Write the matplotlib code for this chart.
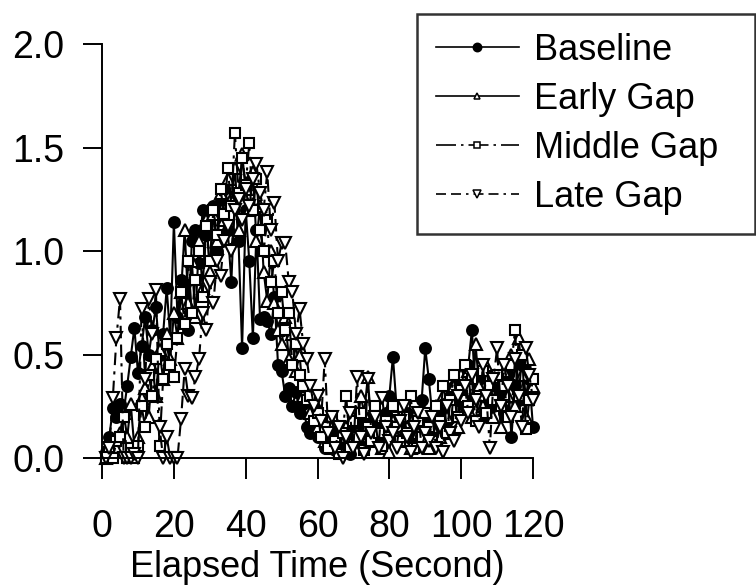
import numpy as np
import matplotlib
matplotlib.use("Agg")
import matplotlib.pyplot as plt
from matplotlib.lines import Line2D

plt.rcParams['font.family'] = ['Liberation Sans', 'DejaVu Sans']

# elapsed time, one reading per second
seconds = list(range(1, 121))

baseline = [
    0.03, 0.10, 0.24, 0.20, 0.26, 0.22, 0.35, 0.49, 0.63, 0.41,
    0.54, 0.68, 0.50, 0.62, 0.73, 0.50, 0.60, 0.82, 0.58, 1.14,
    0.68, 0.86, 0.84, 0.62, 1.05, 1.10, 0.94, 1.20, 1.08, 1.19,
    1.22, 1.00, 1.25, 1.30, 1.10, 0.85, 1.27, 1.05, 0.53, 1.20,
    0.95, 0.58, 1.10, 0.67, 0.68, 0.66, 0.60, 0.78, 0.45, 0.42,
    0.30, 0.34, 0.25, 0.32, 0.22, 0.26, 0.15, 0.12, 0.18, 0.10,
    0.14, 0.05, 0.08, 0.15, 0.04, 0.12, 0.06, 0.10, 0.02, 0.14,
    0.08, 0.18, 0.05, 0.12, 0.20, 0.09, 0.15, 0.05, 0.22, 0.30,
    0.49, 0.25, 0.18, 0.10, 0.22, 0.12, 0.08, 0.15, 0.28, 0.53,
    0.38, 0.20, 0.15, 0.10, 0.22, 0.18, 0.30, 0.35, 0.28, 0.40,
    0.25, 0.45, 0.62, 0.30, 0.38, 0.20, 0.28, 0.35, 0.25, 0.40,
    0.32, 0.22, 0.40, 0.10, 0.35, 0.28, 0.45, 0.30, 0.38, 0.15,
]

early_gap = [
    0.00, 0.03, 0.08, 0.05, 0.12, 0.22, 0.10, 0.26, 0.05, 0.10,
    0.29, 0.34, 0.20, 0.44, 0.30, 0.52, 0.38, 0.60, 0.48, 0.70,
    0.58, 0.80, 1.10, 0.75, 0.95, 0.68, 1.05, 0.82, 1.15, 0.90,
    1.18, 1.05, 1.28, 1.15, 1.35, 1.25, 1.40, 1.10, 1.47, 1.30,
    1.20, 1.38, 1.05, 1.22, 0.90, 0.76, 1.00, 0.75, 0.62, 0.55,
    0.68, 0.48, 0.60, 0.42, 0.50, 0.30, 0.35, 0.22, 0.28, 0.15,
    0.20, 0.08, 0.12, 0.05, 0.18, 0.10, 0.03, 0.15, 0.08, 0.20,
    0.12, 0.30, 0.22, 0.39, 0.15, 0.08, 0.20, 0.05, 0.12, 0.03,
    0.18, 0.10, 0.25, 0.08, 0.15, 0.05, 0.20, 0.12, 0.06, 0.22,
    0.05, 0.15, 0.25, 0.10, 0.30, 0.20, 0.12, 0.35, 0.15, 0.40,
    0.30, 0.42, 0.20, 0.55, 0.35, 0.25, 0.45, 0.30, 0.20, 0.38,
    0.15, 0.42, 0.30, 0.50, 0.25, 0.58, 0.40, 0.20, 0.48, 0.35,
]

middle_gap = [
    0.00, 0.03, 0.00, 0.08, 0.10, 0.20, 0.00, 0.05, 0.00, 0.06,
    0.25, 0.15, 0.40, 0.30, 0.48, 0.06, 0.38, 0.55, 0.45, 0.39,
    0.58, 0.80, 0.65, 0.95, 0.70, 0.86, 1.00, 0.78, 1.12, 0.95,
    1.20, 1.08, 1.30, 1.18, 1.40, 1.22, 1.57, 1.28, 1.45, 1.32,
    1.52, 1.20, 1.35, 1.10, 1.00, 1.15, 0.85, 0.95, 0.70, 0.80,
    0.62, 0.70, 0.45, 0.55, 0.40, 0.35, 0.28, 0.30, 0.18, 0.22,
    0.10, 0.15, 0.05, 0.20, 0.08, 0.02, 0.12, 0.30, 0.05, 0.18,
    0.10, 0.22, 0.04, 0.15, 0.08, 0.25, 0.12, 0.06, 0.18, 0.10,
    0.25, 0.15, 0.08, 0.20, 0.12, 0.30, 0.05, 0.18, 0.10, 0.22,
    0.15, 0.08, 0.25, 0.18, 0.35, 0.12, 0.28, 0.40, 0.20, 0.33,
    0.45, 0.25, 0.38, 0.18, 0.30, 0.42, 0.22, 0.35, 0.28, 0.40,
    0.25, 0.35, 0.20, 0.45, 0.62, 0.30, 0.50, 0.14, 0.28, 0.38,
]

late_gap = [
    0.00, 0.05, 0.29, 0.58, 0.77, 0.00, 0.00, 0.00, 0.02, 0.00,
    0.72, 0.38, 0.77, 0.60, 0.81, 0.15, 0.00, 0.10, 0.00, 0.00,
    0.00, 0.19, 0.43, 0.30, 0.29, 0.39, 0.48, 0.70, 0.62, 0.85,
    0.75, 0.95, 0.88, 1.05, 1.12, 1.00, 1.20, 1.25, 1.15, 1.30,
    1.22, 1.35, 1.42, 1.28, 1.20, 1.38, 1.10, 1.23, 0.95, 1.04,
    1.04, 0.85, 0.80, 0.60, 0.72, 0.55, 0.48, 0.35, 0.25, 0.30,
    0.18, 0.48, 0.12, 0.20, 0.05, 0.15, 0.00, 0.10, 0.22, 0.05,
    0.39, 0.10, 0.02, 0.38, 0.12, 0.20, 0.05, 0.29, 0.15, 0.08,
    0.12, 0.05, 0.18, 0.25, 0.10, 0.03, 0.15, 0.22, 0.05, 0.12,
    0.08, 0.20, 0.05, 0.15, 0.03, 0.25, 0.12, 0.08, 0.30, 0.18,
    0.35, 0.22, 0.40, 0.28, 0.15, 0.45, 0.30, 0.05, 0.38, 0.53,
    0.25, 0.45, 0.35, 0.20, 0.48, 0.30, 0.15, 0.53, 0.40, 0.28,
]

labels = ["Baseline", "Early Gap", "Middle Gap", "Late Gap"]
x_ticks = [0, 20, 40, 60, 80, 100, 120]
y_ticks = [0.0, 0.5, 1.0, 1.5, 2.0]

series = [baseline, early_gap, middle_gap, late_gap]
markers = ['o', '^', 's', 'v']
faces = ['black', 'white', 'white', 'white']
styles = ['-', '-', (0, (12, 3, 1.5, 3)), (0, (6, 3, 6, 3, 1.5, 3))]
sizes = [7.8, 8.8, 6.8, 8.8]
legend_sizes = [6, 5, 5, 5.5]

fig = plt.figure(figsize=(7.56, 5.88), dpi=100)
ax = fig.add_axes([0.135, 0.221, 0.57, 0.704])

for vals, mk, fc, ls, ms in zip(series, markers, faces, styles, sizes):
    ax.plot(seconds, vals, linestyle=ls, color='black', linewidth=1.5,
            marker=mk, markersize=ms, markerfacecolor=fc,
            markeredgecolor='black', markeredgewidth=1.5, clip_on=False)

ax.set_xlim(0, 120)
ax.set_ylim(0, 2.0)
ax.set_xticks(x_ticks)
ax.set_yticks(y_ticks)
ax.set_yticklabels([f"{v:.1f}" for v in y_ticks])
ax.spines['top'].set_visible(False)
ax.spines['right'].set_visible(False)
for s in ['left', 'bottom']:
    ax.spines[s].set_linewidth(1.4)
ax.tick_params(axis='y', direction='out', length=14, width=1.4,
               labelsize=27, pad=13)
ax.tick_params(axis='x', direction='out', length=15, width=1.4,
               labelsize=27, pad=22)
ax.set_xlabel("Elapsed Time (Second)", fontsize=26, labelpad=3)

handles = [Line2D([], [], linestyle=ls, color='black', linewidth=1.2,
                  marker=mk, markersize=ms, markerfacecolor=fc,
                  markeredgecolor='black', markeredgewidth=1.1)
           for mk, fc, ls, ms in zip(markers, faces, styles, legend_sizes)]
leg = fig.legend(handles, labels, loc='upper left', mode='expand',
                 bbox_to_anchor=(417 / 756, 0, (755 - 417) / 756, 1 - 14 / 588),
                 fontsize=26, frameon=True, fancybox=False,
                 handlelength=2.3, handletextpad=0.42, labelspacing=0.39,
                 borderpad=0.52, borderaxespad=0)
leg.get_frame().set_edgecolor('black')
leg.get_frame().set_linewidth(1.8)

fig.savefig("out.png", dpi=100)
